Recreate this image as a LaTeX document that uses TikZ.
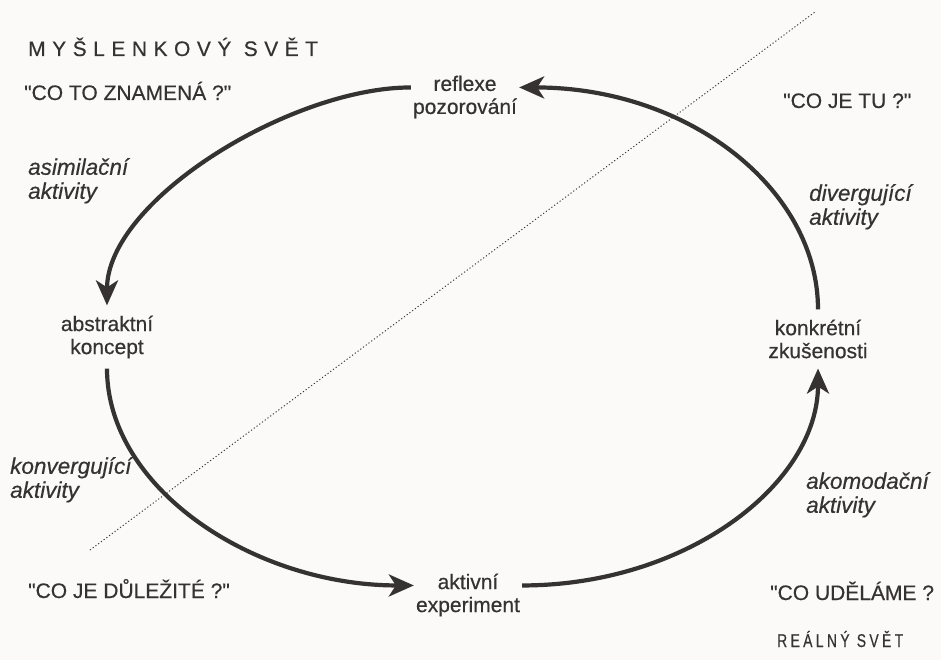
\documentclass[tikz,border=0pt]{standalone}
\usepackage{fontspec}
\setmainfont{Liberation Sans}[Ligatures=TeXOff, FakeBold=0.4]
\usetikzlibrary{arrows.meta}

\definecolor{ink}{HTML}{363232}
\definecolor{paper}{HTML}{FBFAF8}

% letter-spaced caption text
\newcommand{\tr}{\hspace{6.5pt}}
\newcommand{\trs}{\hspace{4.5pt}}

\begin{document}
\begin{tikzpicture}[x=1pt, y=-1pt,
  every node/.style={text=ink, font=\fontsize{21}{23}\selectfont, inner sep=0pt},
  stage/.style={align=center, inner xsep=2pt, inner ysep=10pt},
  activity/.style={align=left, anchor=north west, font=\fontsize{22.5}{24}\selectfont\itshape},
  question/.style={anchor=base west},
  cycle/.style={draw=ink, line width=4.2pt,
    -{Stealth[length=25pt, width=22pt, inset=7pt]}},
  divider/.style={draw=ink, line width=0.9pt, dash pattern=on 1.2pt off 2.2pt}
]
\fill[paper] (0,0) rectangle (941,660);
\useasboundingbox (0,0) rectangle (941,660);

% dividing line between the two worlds
\coordinate (d1) at (90,550);
\coordinate (d2) at (815,12);
\draw[divider] (d1) -- (d2);

% world captions and questions
\node[question] (mys) at (28,56) {M\tr Y\tr Š\tr L\tr E\tr N\tr K\tr O\tr V\tr Ý\tr\ S\tr V\tr Ě\tr T};
\node[question, font=\fontsize{18.5}{20}\selectfont] (real) at (777,647)
  {\scalebox{0.75}[1]{R\trs E\trs Á\trs L\trs N\trs Ý\trs\ S\trs V\trs Ě\trs T}};
\node[question] (q1) at (24,100) {"CO TO ZNAMENÁ ?"};
\node[question] (q2) at (783,108) {"CO JE TU ?"};
\node[question] (q3) at (28,598) {"CO JE DŮLEŽITÉ ?"};
\node[question] (q4) at (770,600) {"CO UDĚLÁME ?};

% the four stages of the cycle
\node[stage] (R) at (465,97) {reflexe\\pozorování};
\node[stage] (A) at (107,337) {abstraktní\\koncept};
\node[stage] (E) at (468,595) {aktivní\\experiment};
\node[stage] (K) at (818,339) {konkrétní\\zkušenosti};

% activities between the stages
\node[activity] (a1) at (28,158) {asimilační\\aktivity};
\node[activity] (a2) at (10,457) {konvergující\\aktivity};
\node[activity] (a3) at (809,184) {divergující\\aktivity};
\node[activity] (a4) at (806,472) {akomodační\\aktivity};

% the cycle arrows
\draw[cycle] (R.170) .. controls +(-120,0) and +(0,-105) .. (A.north);
\draw[cycle] (A.south) .. controls +(0,120) and +(-160,0) .. (E.170);
\draw[cycle] (E.10) .. controls +(165,0) and +(0,115) .. (K.south);
\draw[cycle] (K.north) .. controls +(0,-120) and +(170,0) .. (R.10);
\end{tikzpicture}
\end{document}
